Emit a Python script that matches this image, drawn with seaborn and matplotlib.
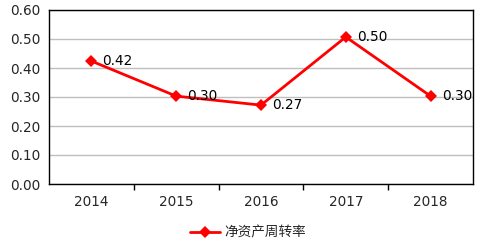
import matplotlib
matplotlib.use("Agg")
import matplotlib.pyplot as plt
import seaborn as sns
import pandas as pd
import numpy as np

years = ["2014", "2015", "2016", "2017", "2018"]
values = [0.424, 0.303, 0.272, 0.507, 0.303]
labels = ["0.42", "0.30", "0.27", "0.50", "0.30"]
series_name = "净资产周转率"

sns.set_theme(style="white")
plt.rcParams['font.family'] = ['DejaVu Sans', 'Noto Sans CJK SC']

df = pd.DataFrame({"x": np.arange(len(years)), "y": values, "s": series_name})

fig = plt.figure(figsize=(4.79, 2.44), dpi=100)
ax = fig.add_axes([49/479, 1-184/244, 424/479, 174/244])

sns.lineplot(data=df, x="x", y="y", hue="s", palette=["#FF0000"], marker="D",
             markersize=6, markeredgewidth=0, linewidth=2, ax=ax, legend=True)

for xi, v, t in zip(df["x"], values, labels):
    ax.annotate(t, (xi, v), xytext=(8, 0), textcoords="offset points",
                va="center", ha="left", fontsize=9.8, color="#000000")

ax.set_xlim(-0.5, len(years) - 0.5)
ax.set_ylim(0, 0.6)
ax.set_yticks(np.arange(0, 0.61, 0.1))
ax.set_yticklabels([f"{v:.2f}" for v in np.arange(0, 0.61, 0.1)], fontsize=9.8)
ax.set_xticks(np.arange(len(years)))
ax.set_xticklabels(years, fontsize=9.8)
ax.set_xticks(np.arange(0.5, len(years) - 1, 1), minor=True)
ax.tick_params(axis="x", which="major", length=0, pad=8)
ax.tick_params(axis="x", which="minor", length=4, width=1, color="black", direction="out", bottom=True)
ax.tick_params(axis="y", length=0, pad=6)
ax.yaxis.grid(True, color="#BFBFBF", linewidth=1)
ax.xaxis.grid(False)
for s in ax.spines.values():
    s.set_color("black")
    s.set_linewidth(1)
ax.set_xlabel("")
ax.set_ylabel("")

leg = ax.legend(loc="upper center", bbox_to_anchor=(0.47, -0.17), frameon=False,
                handlelength=2.2, handletextpad=0.3,
                prop={'family': ['Noto Sans CJK SC'], 'size': 9.8})
fig.savefig("out.png", dpi=100)
